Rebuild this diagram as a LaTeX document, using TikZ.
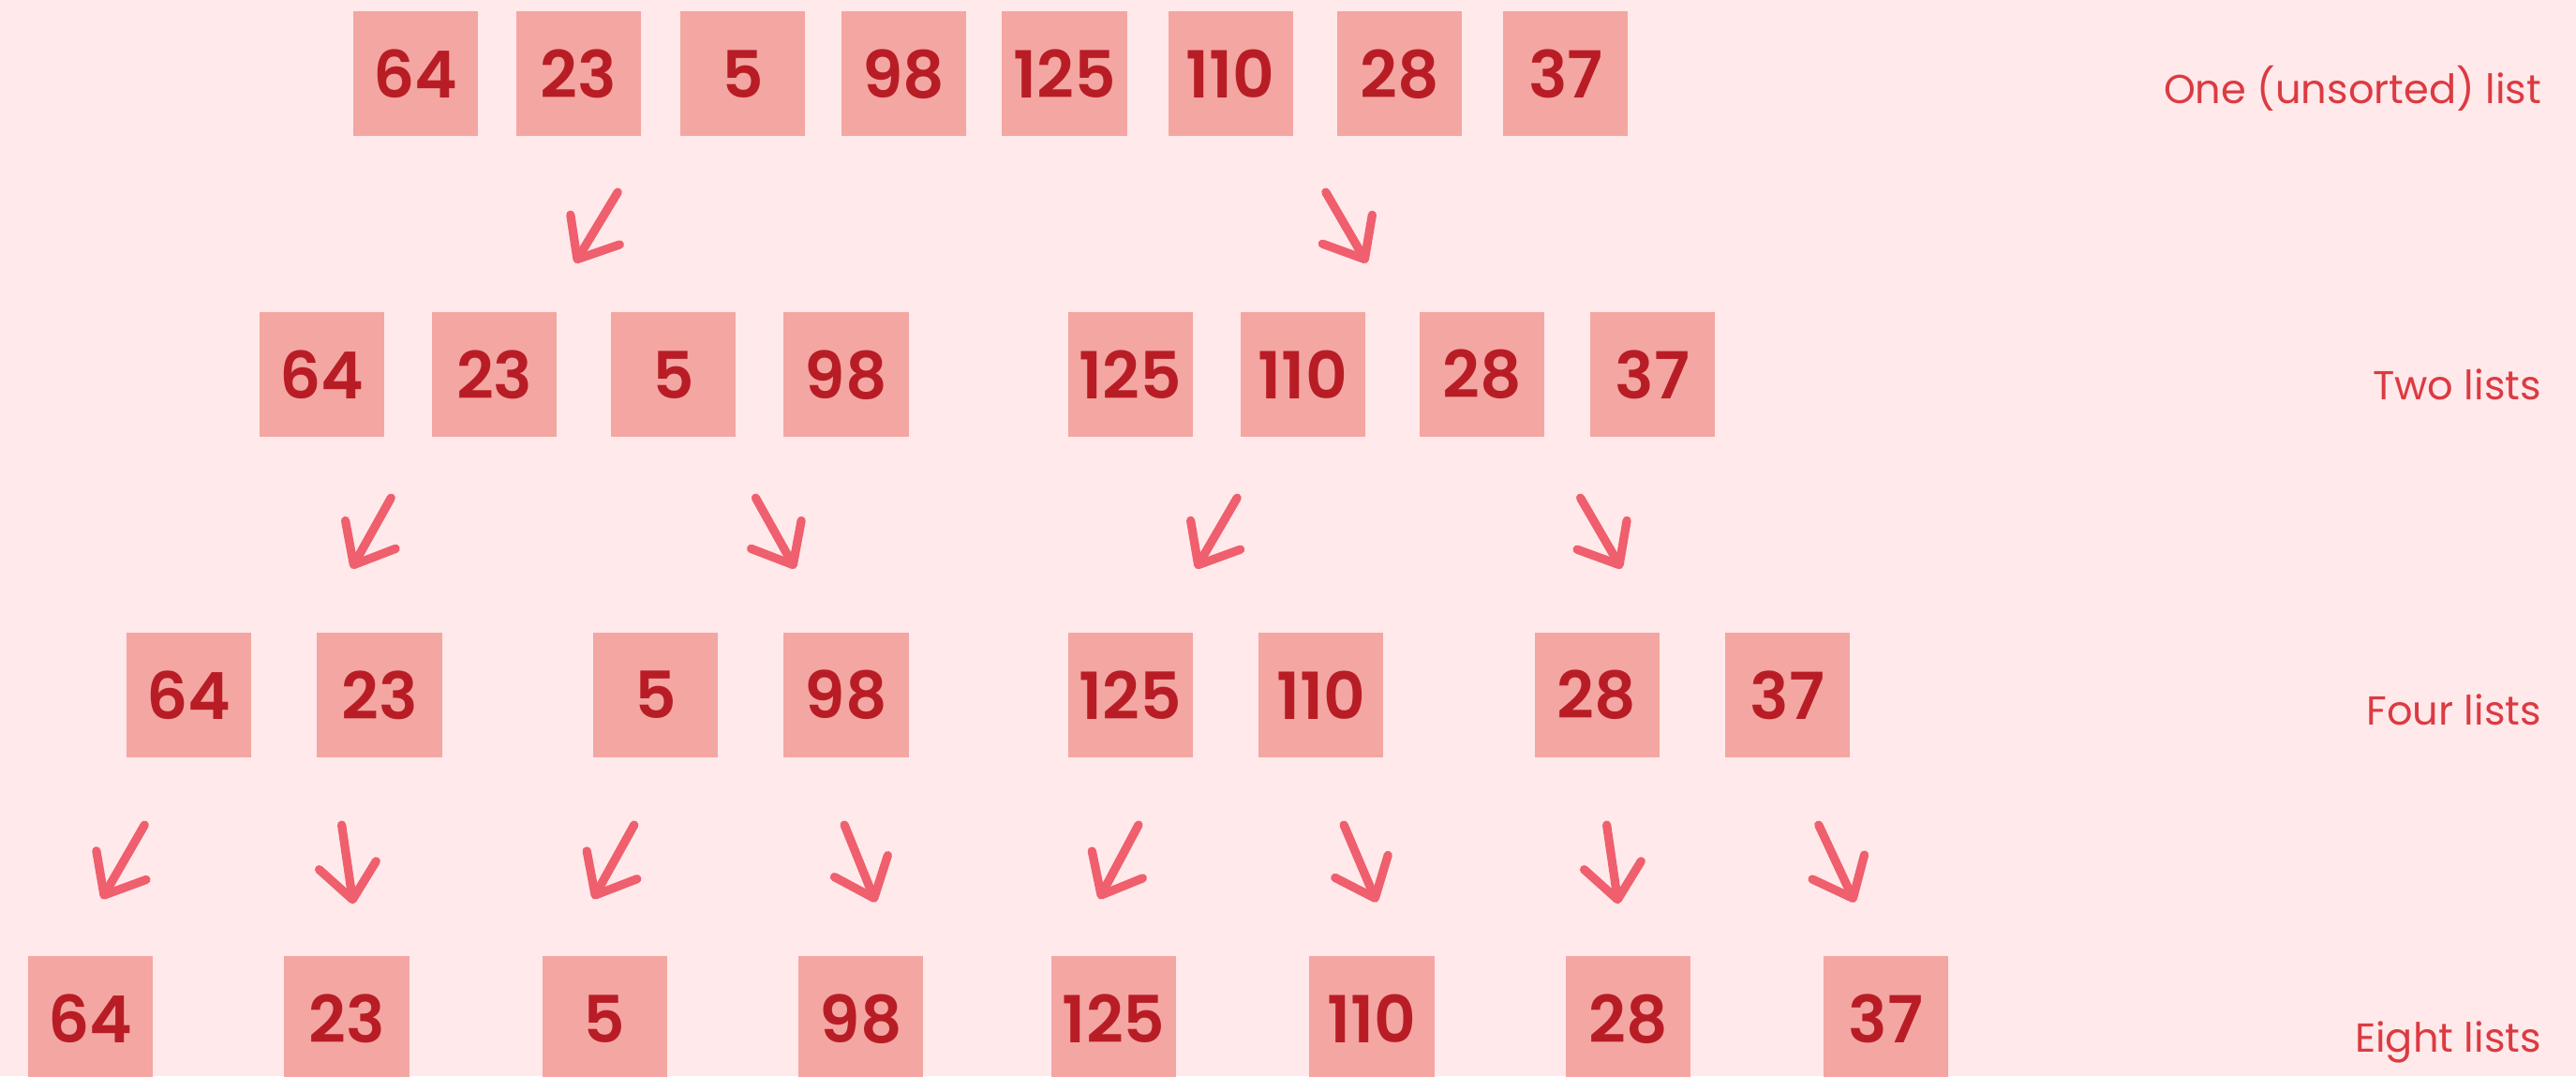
\documentclass[tikz,border=0pt]{standalone}
\usepackage{fontspec}
\setmainfont{Poppins}
\newfontfamily\cellfont{Poppins SemiBold}
\usetikzlibrary{arrows.meta}
\definecolor{Backdrop}{HTML}{FFE9EA}
\definecolor{CellPink}{HTML}{F4A6A2}
\definecolor{DeepRed}{HTML}{B81D26}
\definecolor{LabelRed}{HTML}{DC3A42}
\definecolor{ArrowRed}{HTML}{EF5F6D}
\tikzset{
  cell/.style={fill=CellPink,minimum size=1.52cm,inner sep=0pt,text=DeepRed,font=\fontsize{22.5}{22.5}\cellfont},
  rowlabel/.style={anchor=base east,text=LabelRed,font=\fontsize{14}{14}\selectfont},
  split/.style={ArrowRed,line width=3pt,line cap=round,-{Straight Barb[length=.42cm,width=.7cm,round]}}
}

\begin{document}
\begin{tikzpicture}[x=.02cm,y=-.02cm]
        \fill[Backdrop](0,0)rectangle(1568,655);
        \useasboundingbox(0,0)rectangle(1568,655);
        % one list, two, four, eight
        \foreach \x/\v[count=\i] in {253/64,352/23,452/5,550/98,648/125,749/110,852/28,953/37}
          \node[cell](a\i)at(\x,45){\v};
        \foreach \x/\v[count=\i] in {196/64,301/23,410/5,515/98,688/125,793/110,902/28,1006/37}
          \node[cell](b\i)at(\x,228){\v};
        \foreach \x/\v[count=\i] in {115/64,231/23,399/5,515/98,688/125,804/110,972/28,1088/37}
          \node[cell](c\i)at(\x,423){\v};
        \foreach \x/\v[count=\i] in {55/64,211/23,368/5,524/98,678/125,835/110,991/28,1148/37}
          \node[cell](d\i)at(\x,620){\v};
        \node[rowlabel](one)at(1553,63){One (unsorted) list};
        \node[rowlabel](two)at(1553,243){Two lists};
        \node[rowlabel](four)at(1553,441){Four lists};
        \node[rowlabel](eight)at(1553,640){Eight lists};
        % splitting arrows
        \foreach \n/\p/\q in {1/{376,117}/{350,160},2/{807,117}/{832,160},
            3/{238,303}/{214,346},4/{460,303}/{484,346},5/{753,303}/{728,346},6/{962,303}/{987,346},
            7/{88,502}/{62,547},8/{208,502}/{215,550},9/{386,502}/{361,547},10/{514,502}/{533,549},
            11/{693,502}/{669,547},12/{818,502}/{838,549},13/{978,502}/{985,550},14/{1107,502}/{1129,549}}{
          \coordinate(s\n)at(\p);
          \coordinate(t\n)at(\q);
          \draw[split](s\n)--(t\n);
        }
      \end{tikzpicture}
\end{document}
